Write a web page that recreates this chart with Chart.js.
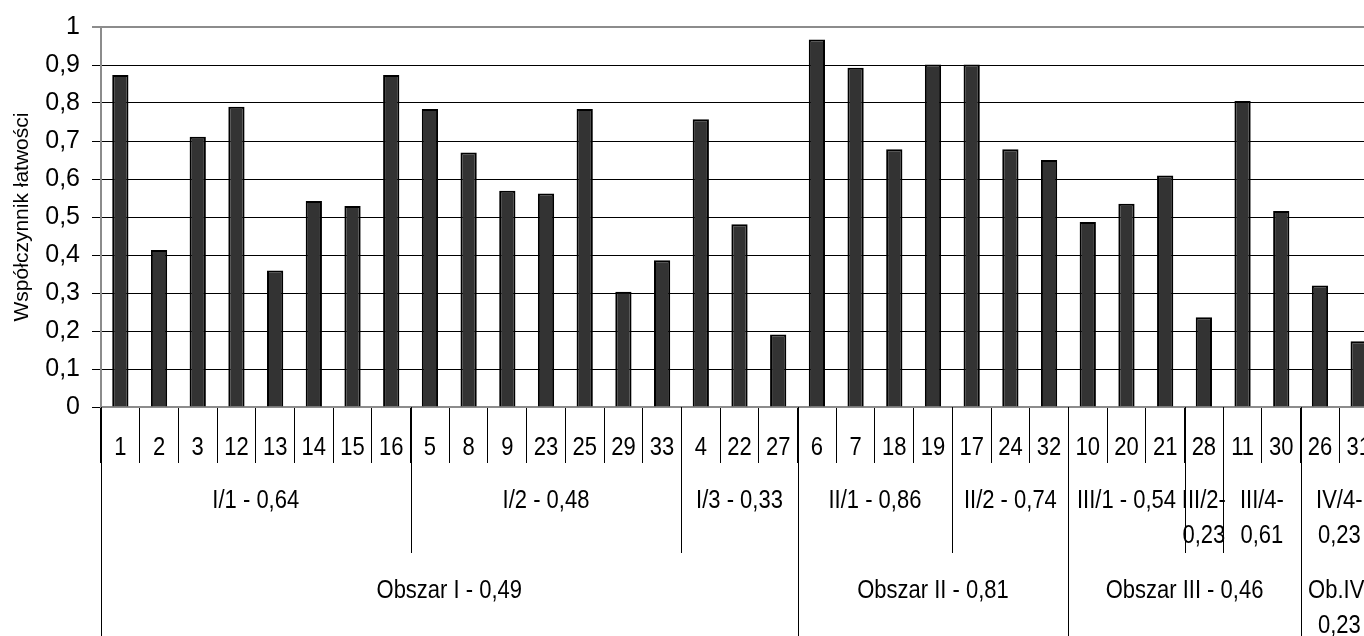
<!DOCTYPE html>
<html lang="pl">
<head>
<meta charset="utf-8">
<title>Współczynnik łatwości zadań</title>
<script src="https://cdn.jsdelivr.net/npm/chart.js@4.4.1/dist/chart.umd.min.js"></script>
<style>
  html, body { margin: 0; padding: 0; background: #fff; overflow: hidden; }
  #wrap { width: 1364px; height: 636px; overflow: hidden; }
  canvas { display: block; }
</style>
</head>
<body>
<div id="wrap"><canvas id="easeChart" width="1380" height="636"></canvas></div>
<script>
// Question numbers, ordered by area / sub-area
const questions = ['1', '2', '3', '12', '13', '14', '15', '16', '5', '8', '9', '23', '25', '29', '33',
  '4', '22', '27', '6', '7', '18', '19', '17', '24', '32', '10', '20', '21', '28', '11', '30', '26', '31'];

// Ease coefficient per question
const easeValues = [0.874, 0.413, 0.711, 0.790, 0.359, 0.542, 0.529, 0.874, 0.784, 0.670, 0.569, 0.562,
  0.784, 0.303, 0.386, 0.757, 0.481, 0.191, 0.967, 0.893, 0.678, 0.901, 0.901, 0.678, 0.650, 0.487,
  0.535, 0.609, 0.236, 0.805, 0.516, 0.320, 0.173];

// Second axis level: sub-areas and how many questions each one covers
const subareaLabels = [['I/1 - 0,64'], ['I/2 - 0,48'], ['I/3 - 0,33'], ['II/1 - 0,86'], ['II/2 - 0,74'],
  ['III/1 - 0,54'], ['III/2-', '0,23'], ['III/4-', '0,61'], ['IV/4-', '0,23']];
const subareaSizes = [8, 7, 3, 4, 3, 3, 1, 2, 2];

// Third axis level: areas
const areaLabels = [['Obszar I - 0,49'], ['Obszar II - 0,81'], ['Obszar III - 0,46'], ['Ob.IV-', '0,23']];
const areaSizes = [18, 7, 6, 2];

const yTickLabels = ['0', '0,1', '0,2', '0,3', '0,4', '0,5', '0,6', '0,7', '0,8', '0,9', '1'];

const FONT = '"Liberation Sans", Arial, sans-serif';
const AXIS_GREY = '#8c8c8c';

// Slightly tall text, like the axis labels in the original sheet
function drawText(ctx, text, x, y) {
  ctx.save();
  ctx.translate(x, y);
  ctx.scale(1, 1.15);
  ctx.fillText(text, 0, 0);
  ctx.restore();
}

function vLine(ctx, x, y1, y2) {
  const px = Math.round(x) + 0.5;
  ctx.beginPath();
  ctx.moveTo(px, y1);
  ctx.lineTo(px, y2);
  ctx.stroke();
}

// Draws question numbers plus the two grouped label rows under the x axis
const groupAxisPlugin = {
  id: 'groupAxis',
  afterDraw(chart) {
    const x = chart.scales.x;
    const ctx = chart.ctx;
    const step = x.getPixelForValue(1) - x.getPixelForValue(0);
    const edge = i => x.getPixelForValue(i) - step / 2;
    const top = x.top;

    ctx.save();
    ctx.strokeStyle = '#000';
    ctx.lineWidth = 1;
    ctx.fillStyle = '#000';
    ctx.font = '22px ' + FONT;
    ctx.textAlign = 'center';
    ctx.textBaseline = 'alphabetic';

    questions.forEach((q, i) => drawText(ctx, q, x.getPixelForValue(i), top + 48));

    function drawGroups(labels, sizes, lineEnd, baseline) {
      let start = 0;
      labels.forEach((lines, g) => {
        const end = start + sizes[g];
        vLine(ctx, edge(start), top, lineEnd);
        const cx = (edge(start) + edge(end)) / 2;
        lines.forEach((t, k) => drawText(ctx, t, cx, baseline + k * 34.5));
        start = end;
      });
      vLine(ctx, edge(start), top, lineEnd);
    }

    drawGroups(subareaLabels, subareaSizes, top + 146, top + 101);
    drawGroups(areaLabels, areaSizes, x.bottom, top + 191);
    ctx.restore();
  }
};

function tickIndex(value) {
  return Math.round(value * 10);
}

function initEaseChart() {
  const ctx = document.getElementById('easeChart').getContext('2d');

  new Chart(ctx, {
    type: 'bar',
    data: {
      labels: questions,
      datasets: [{
        data: easeValues,
        backgroundColor: '#333333',
        borderColor: '#000000',
        borderWidth: 2,
        barPercentage: 0.42,
        categoryPercentage: 1
      }]
    },
    plugins: [groupAxisPlugin],
    options: {
      responsive: false,
      animation: false,
      layout: {
        padding: { top: 26, right: 2, left: 0, bottom: 0 }
      },
      plugins: {
        legend: { display: false },
        tooltip: { enabled: false }
      },
      scales: {
        x: {
          offset: true,
          ticks: { display: false },
          grid: {
            display: true,
            offset: true,
            drawOnChartArea: false,
            drawTicks: true,
            tickLength: 56,
            color: '#000',
            lineWidth: 1
          },
          border: { color: AXIS_GREY, width: 2 },
          afterFit: scale => { scale.height = 229; }
        },
        y: {
          min: 0,
          max: 1,
          ticks: {
            stepSize: 0.1,
            padding: 12,
            color: '#000',
            font: { size: 25, family: FONT },
            callback: value => yTickLabels[tickIndex(value)]
          },
          grid: {
            tickLength: 9,
            color: c => (tickIndex(c.tick.value) === 10 ? AXIS_GREY : '#000'),
            lineWidth: c => (tickIndex(c.tick.value) === 10 ? 2 : 1)
          },
          border: { color: AXIS_GREY, width: 2 },
          title: {
            display: true,
            text: 'Współczynnik łatwości',
            color: '#000',
            font: { size: 21, family: FONT },
            padding: { top: 10, bottom: 0 }
          },
          afterFit: scale => { scale.width = 101; }
        }
      }
    }
  });
}

document.addEventListener('DOMContentLoaded', initEaseChart);
</script>
</body>
</html>
